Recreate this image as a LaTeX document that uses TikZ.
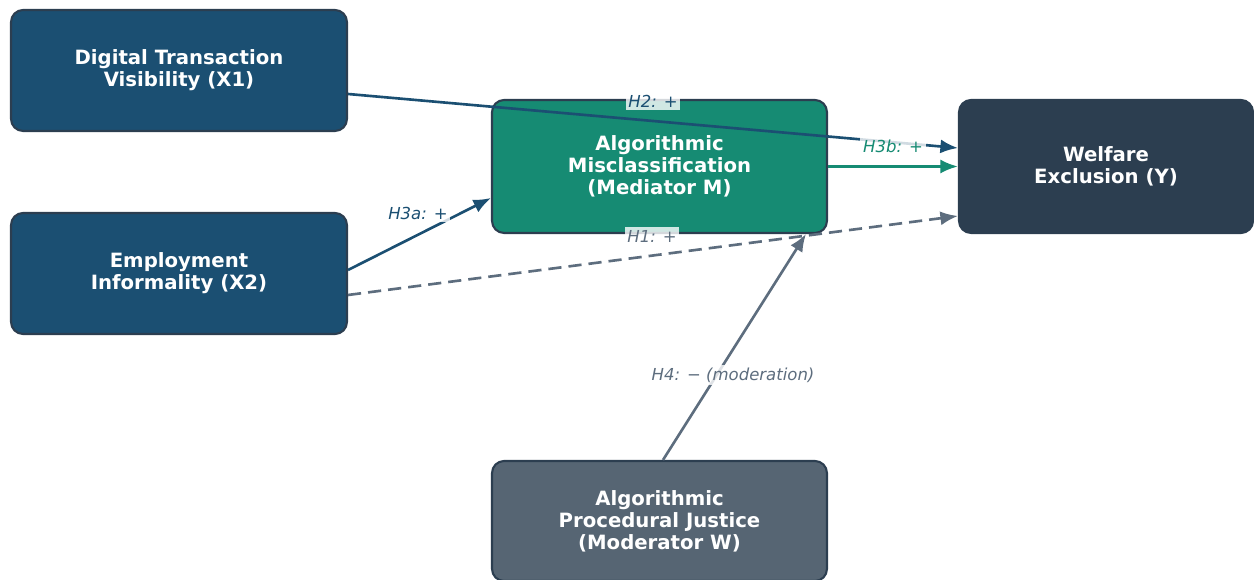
\documentclass[tikz,border=0pt]{standalone}
\usepackage{fontspec}
\setmainfont{DejaVu Sans}
\usetikzlibrary{arrows.meta}
\definecolor{navy}{HTML}{1B4F72}
\definecolor{teal}{HTML}{168B73}
\definecolor{slate}{HTML}{2C3E50}
\definecolor{steel}{HTML}{566573}
\definecolor{greyline}{HTML}{5D6D7E}
\begin{document}
\begin{tikzpicture}[x=0.02cm,y=-0.02cm,
	box/.style={draw=slate, line width=1.2pt, rounded corners=0.24cm, text=white,
		font=\bfseries\fontsize{11.2}{12.5}\selectfont, align=center, inner sep=0pt},
	lab/.style={font=\itshape\fontsize{9.4}{11}\selectfont, fill=white, fill opacity=0.8,
		text opacity=1, inner sep=1.5pt},
	link/.style={line width=1.5pt, -{Latex[length=10pt,width=8pt]}}]
	\useasboundingbox (0,0) rectangle (1254,580);

	\node[box, fill=navy, minimum width=6.72cm, minimum height=2.42cm] (x1) at (179, 70.5) {Digital Transaction\\Visibility (X1)};
	\node[box, fill=navy, minimum width=6.72cm, minimum height=2.42cm] (x2) at (179, 273.5) {Employment\\Informality (X2)};
	\node[box, fill=teal, minimum width=6.7cm, minimum height=2.66cm] (m) at (659.5, 166.5) {Algorithmic\\Misclassification\\(Mediator M)};
	\node[box, fill=slate, minimum width=5.88cm, minimum height=2.66cm] (y) at (1106, 166.5) {Welfare\\Exclusion (Y)};
	\node[box, fill=steel, minimum width=6.7cm, minimum height=2.4cm] (w) at (659.5, 521) {Algorithmic\\Procedural Justice\\(Moderator W)};

	\draw[link, navy] ([yshift=-0.47cm]x1.east) -- ([yshift=0.37cm]y.west);
	\draw[link, navy] ([yshift=0.07cm]x2.east) -- ([yshift=-0.63cm]m.west);
	\draw[link, teal] (m.east) -- (y.west);
	\draw[link, greyline, dash pattern=on 7.5pt off 4pt] ([yshift=-0.43cm]x2.east) -- ([yshift=-0.99cm]y.west);
	\draw[link, greyline] ([xshift=0.07cm]w.north) -- ([xshift=2.93cm]m.south);

	\node[lab, text=navy] (h2) at (653, 101) {H2: +};
	\node[lab, text=navy] (h3a) at (418, 213) {H3a: +};
	\node[lab, text=teal] (h3b) at (893, 146) {H3b: +};
	\node[lab, text=greyline] (h1) at (652, 236) {H1: +};
	\node[lab, text=greyline] (h4) at (733, 375) {H4: − (moderation)};
\end{tikzpicture}
\end{document}
